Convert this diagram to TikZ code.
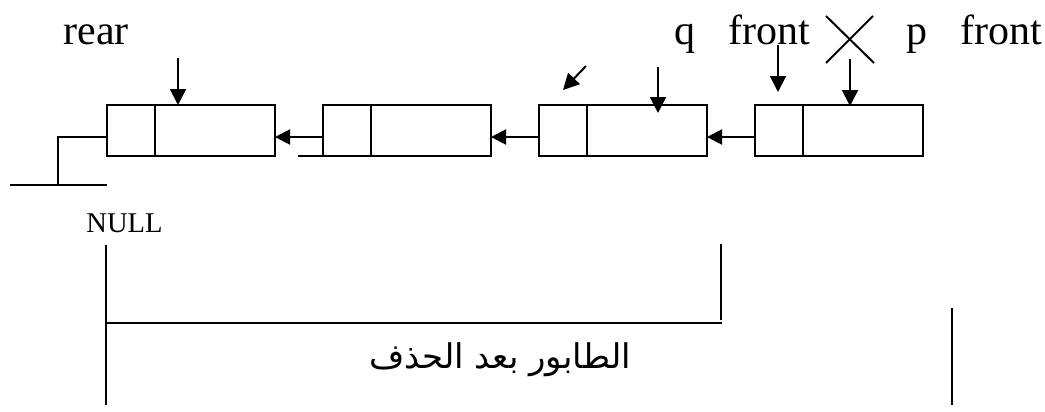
\documentclass[tikz,border=0pt]{standalone}
\usepackage{fontspec}
\setmainfont{Liberation Serif}
\newfontfamily\arabicfont[Script=Arabic]{DejaVu Sans}
\TeXXeTstate=1
\usetikzlibrary{arrows.meta,positioning,calc}

\begin{document}
\begin{tikzpicture}[
      x=0.5pt,y=-0.5pt,
      line width=1pt,
      ptr/.style={draw,line width=1.2pt,minimum width=24pt,minimum height=25.5pt,inner sep=0pt,outer sep=0pt},
      dat/.style={draw,line width=1.2pt,minimum width=60pt,minimum height=25.5pt,inner sep=0pt,outer sep=0pt},
      lbl/.style={font=\fontsize{21}{25}\selectfont,anchor=base,inner sep=0pt},
      link/.style={-{Triangle[length=7.5pt,width=7.5pt]}},
      pointer/.style={-{Triangle[length=8pt,width=8pt]}}
    ]
      \useasboundingbox (0,0) rectangle (1045,412);

      % the four nodes of the queue
      \node[ptr] (p1) at (131,130.5) {};
      \node[dat,right=0pt of p1] (d1) {};
      \node[ptr] (p2) at (347,130.5) {};
      \node[dat,right=0pt of p2] (d2) {};
      \node[ptr] (p3) at (563,130.5) {};
      \node[dat,right=0pt of p3] (d3) {};
      \node[ptr] (p4) at (779,130.5) {};
      \node[dat,right=0pt of p4] (d4) {};

      \draw[link] ($(p4.west)+(0,6.5)$) -- ($(d3.east)+(0,6.5)$);
      \draw[link] ($(p3.west)+(0,6.5)$) -- ($(d2.east)+(0,6.5)$);
      \draw[link] ($(p2.west)+(0,6.5)$) -- ($(d1.east)+(0,6.5)$);
      \draw (p2.south west) -- ++(-25,0);

      % null pointer of the last node
      \coordinate (gnd) at (58,185);
      \coordinate (gl) at (10,185);
      \coordinate (gr) at (107,185);
      \draw ($(p1.west)+(0,6.5)$) -| (gnd);
      \draw (gl) -- (gr);

      % labels
      \node[lbl] (rear) at (96,45) {rear};
      \node[lbl] (q) at (685,45) {q};
      \node[lbl] (front1) at (769,45) {front};
      \node[lbl] (p) at (917,45) {p};
      \node[lbl] (front2) at (1001,45) {front};
      \node[anchor=base,inner sep=0pt,font=\fontsize{14.3}{17}\selectfont] (null) at (124.5,232) {NULL};

      % pointer arrows
      \coordinate (rs) at (178,58);
      \coordinate (rt) at (178,105);
      \coordinate (qs) at (658,67);
      \coordinate (qt) at (658,113);
      \coordinate (fs) at (778,45);
      \coordinate (ft) at (778,92);
      \coordinate (ps) at (850,59);
      \coordinate (pt) at (850,106);
      \coordinate (ds) at (586,66);
      \coordinate (dt) at (563,90);
      \draw[pointer] (rs) -- (rt);
      \draw[pointer] (qs) -- (qt);
      \draw[pointer] (fs) -- (ft);
      \draw[pointer] (ps) -- (pt);
      \draw[pointer] (ds) -- (dt);

      % the crossed out pointer
      \draw (826,16) -- (874,63);
      \draw (873,16) -- (826,63);

      % brackets under the queue
      \draw (106,245) -- (106,405);
      \draw (106,323) -- (722,323);
      \draw (721,244) -- (721,320);
      \draw (952,308) -- (952,405);

      \node[font=\arabicfont\fontsize{17}{20}\selectfont,inner sep=0pt] (title) at (500,360) {\beginR الطابور بعد الحذف\endR};
    \end{tikzpicture}
\end{document}
